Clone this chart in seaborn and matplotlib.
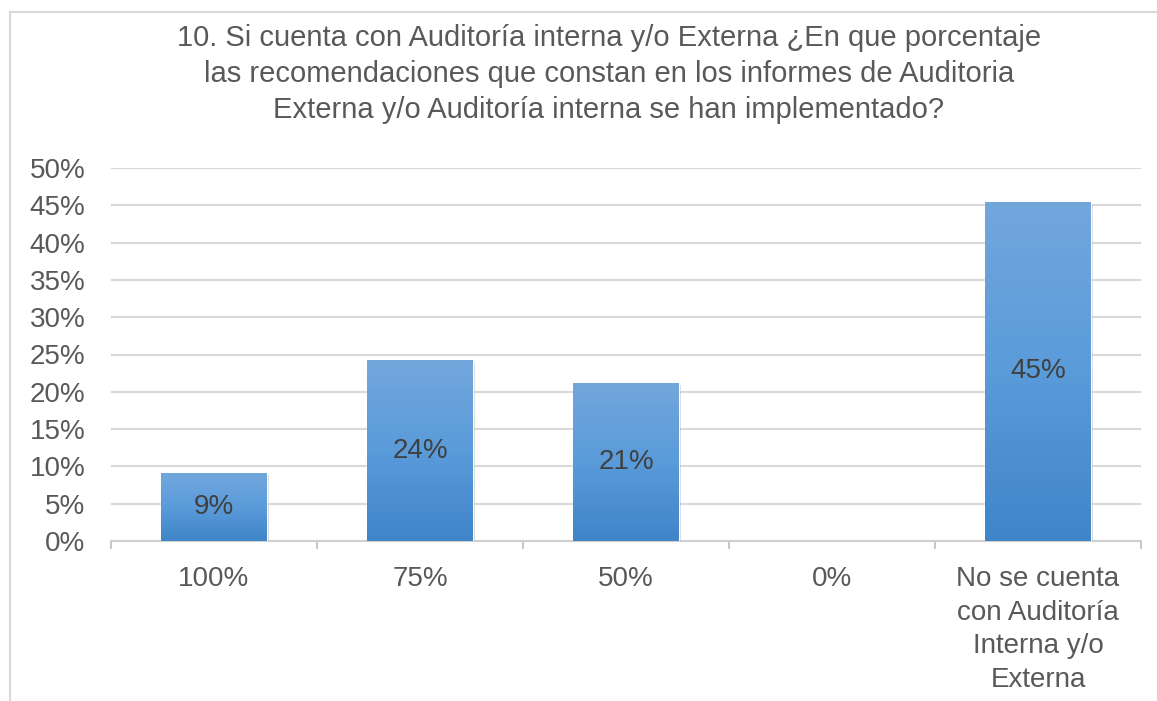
import numpy as np
import pandas as pd
import seaborn as sns
import matplotlib.pyplot as plt
from matplotlib.patches import Rectangle
from matplotlib.colors import LinearSegmentedColormap
from matplotlib import patheffects as pe

categorias = ["100%", "75%", "50%", "0%",
              "No se cuenta\ncon Auditoría\nInterna y/o\nExterna"]
porcentajes = [0.091, 0.242, 0.212, 0.0, 0.455]
etiquetas = ["9%", "24%", "21%", "", "45%"]
marcas_y = [0.0, 0.05, 0.10, 0.15, 0.20, 0.25, 0.30, 0.35, 0.40, 0.45, 0.50]

titulo = ("10. Si cuenta con Auditoría interna y/o Externa ¿En que porcentaje\n"
          "las recomendaciones que constan en los informes de Auditoria\n"
          "Externa y/o Auditoría interna se han implementado?")

df = pd.DataFrame({"categoria": categorias, "porcentaje": porcentajes})

sns.set_style("white")
plt.rcParams["font.family"] = ["Liberation Sans", "DejaVu Sans"]

W, H = 1157, 701
fig = plt.figure(figsize=(W / 100, H / 100), dpi=100)
ax = fig.add_axes([111 / W, 1 - 541 / H, 1030 / W, 373 / H])

sns.barplot(data=df, x="categoria", y="porcentaje", color="#5b9bd5",
            width=0.51, ax=ax, zorder=3)

# gradiente azul en cada barra
cmap = LinearSegmentedColormap.from_list("azul", ["#3f85c8", "#5a9bda", "#72a7dc"])
grad = np.linspace(0, 1, 256).reshape(-1, 1)
for p in ax.patches:
    x0, y0 = p.get_x(), p.get_y()
    w, h = p.get_width(), p.get_height()
    if h <= 0:
        p.set_visible(False)
        continue
    p.set_path_effects([pe.SimplePatchShadow(offset=(1.5, -1.5), shadow_rgbFace="#888888", alpha=0.35),
                        pe.Normal()])
    im = ax.imshow(grad, cmap=cmap, extent=(x0, x0 + w, y0, y0 + h), origin="lower",
                   aspect="auto", zorder=3.5)
    im.set_clip_path(p)
    ax.text(x0 + w / 2, y0 + h / 2, etiquetas[int(round(x0 + w / 2))], ha="center", va="center",
            fontsize=20, color="#404040", zorder=4)

ax.set_xlim(-0.5, 4.5)
ax.set_ylim(0, 0.5)
ax.set_yticks(marcas_y)
ax.set_yticklabels([f"{int(round(v * 100))}%" for v in marcas_y])
ax.set_xlabel("")
ax.set_ylabel("")

ax.yaxis.grid(True, color="#d9d9d9", lw=1.5)
ax.set_axisbelow(True)
for s in ["top", "right", "left"]:
    ax.spines[s].set_visible(False)
ax.spines["bottom"].set_color("#d0d0d0")
ax.spines["bottom"].set_linewidth(1.5)

ax.tick_params(axis="y", length=0, pad=18.5, labelsize=20, labelcolor="#595959")
ax.tick_params(axis="x", which="major", length=0, pad=18, labelsize=20, labelcolor="#595959")
ax.set_xticks(np.arange(-0.5, 5, 1), minor=True)
ax.tick_params(axis="x", which="minor", bottom=True, length=6, width=1.5,
               color="#c8c8c8", direction="out")
for t in ax.get_xticklabels():
    t.set_linespacing(1.38)

fig.text(609 / W, 1 - 74 / H, titulo, ha="center", va="center", fontsize=21,
         color="#595959", linespacing=1.37)

fig.patches.append(Rectangle((10 / W, -0.1), 1.2, (H - 12) / H + 0.1, transform=fig.transFigure,
                             fill=False, edgecolor="#d9d9d9", lw=1.5))

fig.savefig("out.png", dpi=100)
